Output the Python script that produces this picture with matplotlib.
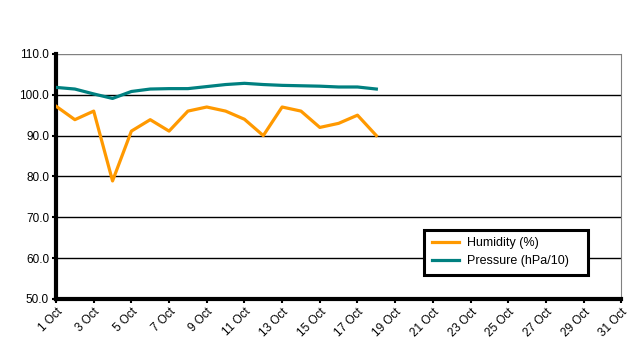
import matplotlib
matplotlib.use("Agg")
import matplotlib.pyplot as plt

plt.rcParams['font.family'] = ['Liberation Sans', 'DejaVu Sans']

days = list(range(1, 19))
humidity = [97.2, 93.9, 96.0, 78.9, 91.1, 93.9, 91.1, 96.0, 97.0, 96.0,
            94.0, 90.0, 97.0, 96.0, 92.0, 93.0, 95.0, 90.0]
pressure = [101.8, 101.4, 100.2, 99.1, 100.8, 101.4, 101.5, 101.5, 102.0, 102.5,
            102.8, 102.5, 102.3, 102.2, 102.1, 101.9, 101.9, 101.4]
tick_days = list(range(1, 32, 2))
tick_labels = ["%d Oct" % d for d in tick_days]

fig = plt.figure(figsize=(6.38, 3.57), dpi=100)
ax = fig.add_axes([0.0878, 0.1625, 0.886, 0.6865])

ax.plot(days, humidity, color='#FF9900', lw=2.3, label='Humidity (%)', zorder=3)
ax.plot(days, pressure, color='#008080', lw=2.3, label='Pressure (hPa/10)', zorder=3)

ax.set_xlim(1, 31)
ax.set_ylim(50, 110)
ax.set_yticks(range(50, 111, 10))
ax.set_yticklabels(["%.1f" % v for v in range(50, 111, 10)], fontsize=8.5)
ax.set_xticks(tick_days)
ax.set_xticklabels(tick_labels, rotation=45, ha='right', rotation_mode='anchor', fontsize=8.5)

ax.grid(axis='y', color='black', lw=1)
ax.set_axisbelow(True)
ax.get_ygridlines()[-1].set_color('#808080')
ax.spines['top'].set_visible(False)
ax.spines['right'].set_color('#808080')
ax.spines['left'].set_linewidth(3)
ax.spines['bottom'].set_linewidth(3)
ax.tick_params(axis='both', length=3, width=1.5, pad=2)

leg = ax.legend(loc='lower left', bbox_to_anchor=(0.651, 0.098, 0.29, 0.184), mode='expand',
                fontsize=9, frameon=True, fancybox=False, borderaxespad=0,
                borderpad=0.6, handlelength=2.2, handletextpad=0.6, labelspacing=0.5)
leg.get_frame().set_edgecolor('black')
leg.get_frame().set_linewidth(2.2)
leg.get_frame().set_alpha(1)

fig.savefig("out.png", dpi=100)
